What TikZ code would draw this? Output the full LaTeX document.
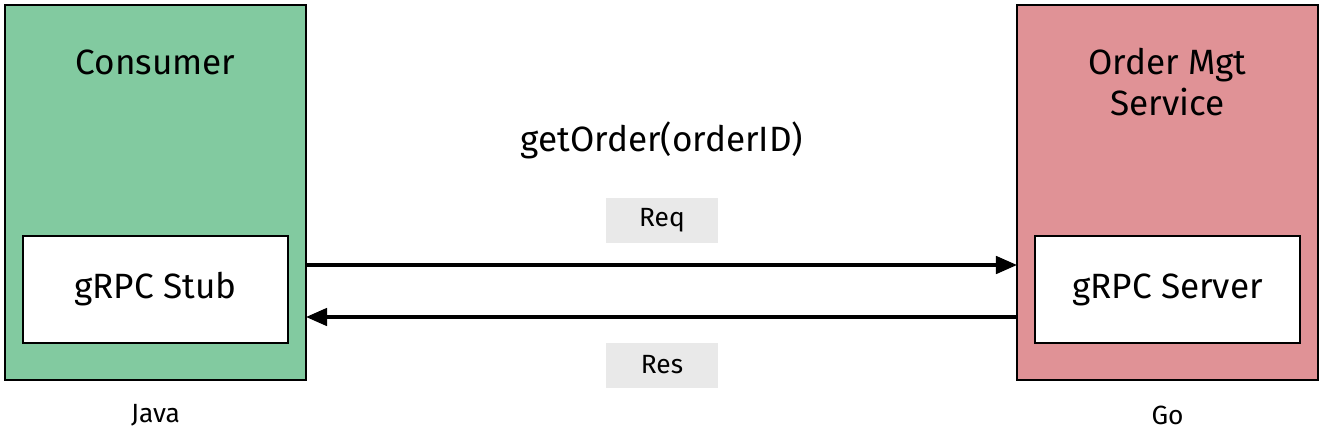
\documentclass[tikz,border=0pt]{standalone}
\usepackage{fontspec}
\setmainfont{Fira Sans}
\usetikzlibrary{arrows.meta}
\definecolor{cgreen}{RGB}{130,202,160}
\definecolor{cred}{RGB}{224,146,150}
\definecolor{cgray}{RGB}{233,233,233}
\begin{document}
\begin{tikzpicture}[x=0.02cm,y=-0.02cm,
  outer/.style={draw=black,line width=1.2pt},
  inner/.style={draw=black,fill=white,line width=1.2pt},
  big/.style={font=\fontsize{20}{23}\selectfont},
  small/.style={font=\fontsize{15}{18}\selectfont},
  arr/.style={line width=1.8pt,-{Triangle[length=12pt,width=10pt]}}]
\useasboundingbox (0,0) rectangle (1324,430);
\node[outer,fill=cgreen,minimum width=301*0.02cm,minimum height=375*0.02cm] (cons) at (155.5,192.5) {};
\node[outer,fill=cred,minimum width=301*0.02cm,minimum height=375*0.02cm] (oms) at (1167.5,192.5) {};
\node[inner,big,minimum width=265*0.02cm,minimum height=107*0.02cm] (stub) at (155.5,289.5) {gRPC Stub};
\node[inner,big,minimum width=265*0.02cm,minimum height=107*0.02cm] (srv) at (1167.5,289.5) {gRPC Server};
\node[big] (ct) at (155.5,62) {Consumer};
\node[big,align=center] (ot) at (1167.5,82) {Order Mgt\\Service};
\node[big] (get) at (662,140) {getOrder(orderID)};
\node[small,fill=cgray,minimum width=112*0.02cm,minimum height=45*0.02cm] (req) at (662,220.5) {Req};
\node[small,fill=cgray,minimum width=112*0.02cm,minimum height=45*0.02cm] (res) at (662,365) {Res};
\node[small] (java) at (155.5,415) {Java};
\node[small] (go) at (1167.5,415) {Go};
\coordinate (a1) at (306,265); \coordinate (a2) at (1017,265);
\coordinate (b1) at (1017,317); \coordinate (b2) at (306,317);
\draw[arr] (a1) -- (a2);
\draw[arr] (b1) -- (b2);
\end{tikzpicture}
\end{document}
